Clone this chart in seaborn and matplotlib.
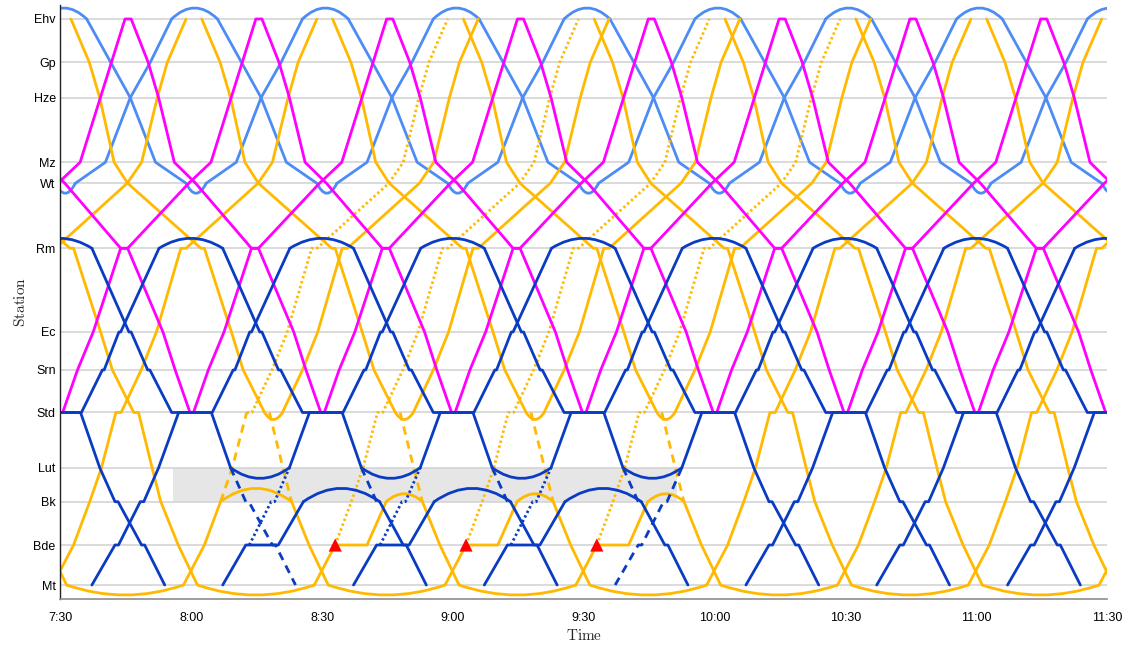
import pandas as pd
import matplotlib
matplotlib.use("Agg")
import matplotlib.pyplot as plt
from matplotlib.path import Path
from matplotlib.patches import PathPatch, Rectangle
import seaborn as sns

sns.set_style("white")
plt.rcParams["font.family"] = ["Liberation Sans", "DejaVu Sans"]
plt.rcParams["mathtext.fontset"] = "cm"

# stations from top to bottom and their place along the line
stations = ["Ehv", "Gp", "Hze", "Mz", "Wt", "Rm", "Ec", "Srn", "Std", "Lut", "Bk", "Bde", "Mt"]
station_pos = [0, 43.3, 78.7, 143.3, 164.3, 229.3, 313, 351, 393.5, 448.7, 482.7, 526, 566]
time_ticks = ["7:30", "8:00", "8:30", "9:00", "9:30", "10:00", "10:30", "11:00", "11:30"]

# light blue sprinter Ehv-Wt, minutes after leaving Ehv
lb_down_st = ["Ehv", "Gp", "Hze", "Mz", "Wt"]
lb_down_t = [0.0, 5.5, 10.0, 15.8, 22.8]
lb_up_st = ["Wt", "Mz", "Hze", "Gp", "Ehv"]
lb_up_t = [27.4, 34.3, 40.0, 44.6, 49.5]
lb_cycle = 60.0
lb_ehv_dep = ["6:36", "7:06", "7:36", "8:06", "8:36", "9:06", "9:36", "10:06", "10:36", "11:06"]

# magenta Std-Ehv-Std round trip, minutes after leaving Std
mg_st = ["Std", "Srn", "Ec", "Rm", "Rm", "Wt", "Mz", "Ehv", "Ehv", "Gp", "Hze", "Mz", "Wt",
         "Rm", "Rm", "Ec", "Srn", "Std", "Std"]
mg_t = [0.0, 3.4, 7.0, 13.3, 14.9, 28.9, 34.0, 44.3, 45.7, 49.6, 52.0, 55.6, 60.5,
        73.3, 74.9, 83.0, 85.8, 89.2, 90.0]
mg_std_dep = ["6:00.5", "6:30.5", "7:00.5", "7:30.5", "8:00.5", "8:30.5", "9:00.5",
              "9:30.5", "10:00.5", "10:30.5", "11:00.5"]

# dark blue sprinter Rm-Mt
db_down_st = ["Rm", "Ec", "Ec", "Srn", "Srn", "Std", "Std", "Lut", "Bk", "Bk", "Bde", "Bde", "Mt"]
db_down_t = [0.0, 8.5, 9.0, 12.8, 13.3, 18.3, 27.4, 31.8, 35.3, 36.0, 41.4, 42.1, 46.7]
db_up_st = ["Mt", "Bde", "Bde", "Bk", "Bk", "Lut", "Std", "Std", "Srn", "Srn", "Ec", "Ec", "Rm"]
db_up_t = [0.0, 5.3, 6.1, 11.1, 11.9, 15.3, 19.9, 27.6, 32.4, 32.8, 36.2, 36.6, 45.4]
db_rm_turn = 60.0
db_headway = 30.0
db_rm_dep = ["7:07.2", "7:37.2", "8:07.2", "8:37.2", "9:07.2", "9:37.2", "10:07.2",
             "10:37.2", "11:07.2"]
db_mt_dep = ["6:37.2", "7:07.2", "7:37.2", "8:07.2", "8:37.2", "9:07.2", "9:37.2",
             "10:07.2", "10:37.2", "11:07.2"]

# yellow intercity Ehv-Mt
ye_down_st = ["Ehv", "Gp", "Hze", "Mz", "Wt", "Rm", "Rm", "Ec", "Srn", "Std", "Std",
              "Lut", "Bk", "Bde", "Mt"]
ye_down_t = [0.0, 4.2, 6.6, 9.9, 13.0, 29.8, 30.6, 36.8, 39.5, 44.4, 45.5,
             48.6, 50.6, 54.6, 59.0]
ye_up_st = ["Mt", "Bde", "Bk", "Lut", "Std", "Std", "Srn", "Ec", "Rm", "Rm", "Wt",
            "Mz", "Hze", "Gp", "Ehv"]
ye_up_t = [0.0, 4.8, 8.5, 11.2, 14.5, 15.7, 20.3, 23.8, 29.4, 30.6, 47.1,
           50.4, 54.0, 56.3, 60.6]
ye_link = 85.8
ye_ehv_dep = ["5:32.4", "6:02.4", "6:32.4", "7:02.4", "7:32.4", "8:02.4", "8:32.4",
              "9:02.4", "9:32.4", "10:02.4", "10:32.4", "11:02.4"]

# disruption: Lut-Bk blocked
blocked = ["7:55.9", "9:51.3"]
db_cut_rm_dep = ["7:37.2", "8:07.2", "8:37.2", "9:07.2"]
db_cut_mt_dep = ["8:07.2", "8:37.2", "9:07.2", "9:37.2"]
db_hold_st = ["Mt", "Bde", "Bde", "Bk"]
db_hold_t = [0.0, 5.3, 12.75, 18.5]
ye_cut_ehv_dep = ["7:32.4", "8:02.4", "8:32.4", "9:02.4"]
ye_cut_mt_dep = ["7:58.2", "8:28.2", "8:58.2", "9:28.2"]
ye_hold_st = ["Mt", "Bde", "Bde", "Bk"]
ye_hold_t = [0.0, 4.8, 12.1, 16.5]
ye_delay = 7.0

LB, MG, YE, DB = "#4d8cf5", "#ff00ff", "#ffb900", "#0a3cc3"
STYLES = {"solid": "-", "dash": (0, (3.0, 2.2)), "dot": (0, (0.85, 1.0))}
ZORDER = {LB: 2.1, YE: 2.2, MG: 2.3, DB: 2.4}
LW = 2.0
POS = dict(zip(stations, station_pos))


def hm(s):
    h, m = s.split(":")
    return (int(h) - 7) * 60 + float(m)


def near(x, lst):
    return any(abs(x - y) < 0.05 for y in lst)


rows, arcs, marks = [], [], []


def leg(times, stops, color, style="solid"):
    n = len(rows)
    for t, s in zip(times, stops):
        rows.append((f"{color}{style}{n}", t, POS[s], color, style))


def part(st, tt, off, t0=-1e9, t1=1e9):
    idx = [i for i, t in enumerate(tt) if t0 - 1e-6 <= t <= t1 + 1e-6]
    return [tt[i] + off for i in idx], [st[i] for i in idx]


def arc(t0, t1, stop, h, color):
    arcs.append((t0, t1, POS[stop], h, color))


# light blue
for d in map(hm, lb_ehv_dep):
    leg(*part(lb_down_st, lb_down_t, d), LB)
    arc(d + lb_down_t[-1], d + lb_up_t[0], "Wt", 10, LB)
    leg(*part(lb_up_st, lb_up_t, d), LB)
    arc(d + lb_up_t[-1], d + lb_cycle, "Ehv", -11, LB)

# magenta
for s in map(hm, mg_std_dep):
    leg(*part(mg_st, mg_t, s), MG)

# dark blue
cut_R = [hm(s) for s in db_cut_rm_dep]
cut_U = [hm(s) for s in db_cut_mt_dep]
lut_d = db_down_t[db_down_st.index("Lut")]
bk_d_arr = db_down_t[db_down_st.index("Bk")]
bk_d_dep = db_down_t[db_down_st.index("Bk") + 1]
lut_u = db_up_t[db_up_st.index("Lut")]
bde_u_dep = db_up_t[db_up_st.index("Bde") + 1]

for r in map(hm, db_rm_dep):
    if near(r, cut_R):
        leg(*part(db_down_st, db_down_t, r, t1=lut_d), DB)
        arc(r + lut_d, r + db_headway + lut_u, "Lut", 10.7, DB)
        if abs(r - cut_R[0]) < 0.05:
            leg(*part(db_down_st, db_down_t, r, t0=lut_d), DB, "dash")
        else:
            leg(*part(db_down_st, db_down_t, r, lut_d, bk_d_arr), DB, "dash")
            leg(*part(db_down_st, db_down_t, r, t0=bk_d_dep), DB)
    else:
        leg(*part(db_down_st, db_down_t, r), DB)

for u in map(hm, db_mt_dep):
    if near(u, cut_U):
        if abs(u - cut_U[-1]) < 0.05:
            leg(*part(db_up_st, db_up_t, u, t1=lut_u), DB, "dash")
        else:
            leg(*part(db_hold_st, db_hold_t, u), DB)
            arc(u + db_hold_t[-1], u + bk_d_dep, "Bk", -13.4, DB)
            leg(*part(db_up_st, db_up_t, u, bde_u_dep, lut_u), DB, "dot")
        leg(*part(db_up_st, db_up_t, u, t0=lut_u), DB)
    else:
        leg(*part(db_up_st, db_up_t, u), DB)
    arc(u + db_up_t[-1], u + db_rm_turn, "Rm", -10, DB)

# yellow
cut_E = [hm(s) for s in ye_cut_ehv_dep]
cut_M = [hm(s) for s in ye_cut_mt_dep]
std_d_arr = ye_down_t[ye_down_st.index("Std")]
std_d_dep = ye_down_t[ye_down_st.index("Std") + 1]
bk_d = ye_down_t[ye_down_st.index("Bk")]
bde_u = ye_up_t[ye_up_st.index("Bde")]
bk_u = ye_up_t[ye_up_st.index("Bk")]
std_u_arr = ye_up_t[ye_up_st.index("Std")]
std_u_dep = ye_up_t[ye_up_st.index("Std") + 1]

for e in map(hm, ye_ehv_dep):
    if near(e, cut_E):
        late = e + ye_link - 60 + ye_delay
        leg(*part(ye_down_st, ye_down_t, e, t1=std_d_arr), YE)
        arc(e + std_d_arr, late + std_u_dep, "Std", 7, YE)
        leg(*part(ye_down_st, ye_down_t, e, std_d_dep, bk_d), YE, "dash")
        leg(*part(ye_down_st, ye_down_t, e, t0=bk_d), YE)
        leg(*part(ye_up_st, ye_up_t, late, t0=std_u_dep), YE)
    else:
        leg(*part(ye_down_st, ye_down_t, e), YE)
    arc(e + ye_down_t[-1], e + ye_link, "Mt", 10, YE)

    m = e + ye_link
    bk_back = m - ye_link + 60 + bk_d
    if near(m, cut_M):
        if abs(m - cut_M[0]) < 0.05:
            leg(*part(ye_up_st, ye_up_t, m, t1=bk_u), YE)
            arc(m + bk_u, bk_back, "Bk", -13.4, YE)
            leg(*part(ye_up_st, ye_up_t, m, bk_u, std_u_arr), YE, "dash")
            leg(*part(ye_up_st, ye_up_t, m, t0=std_u_arr), YE, "dot")
        else:
            leg(*part(ye_hold_st, ye_hold_t, m), YE)
            arc(m + ye_hold_t[-1], bk_back, "Bk", -8, YE)
            leg(*part(ye_up_st, ye_up_t, m, t0=bde_u), YE, "dot")
            marks.append((m + bde_u, POS["Bde"]))
    else:
        leg(*part(ye_up_st, ye_up_t, m), YE)

df = pd.DataFrame(rows, columns=["leg", "t", "pos", "color", "style"])

fig = plt.figure(figsize=(11.35, 6.45), dpi=100)
ax = fig.add_axes([0.0533, 0.0713, 0.922, 0.921])

t_lo, t_hi = hm(blocked[0]), hm(blocked[1])
ax.add_patch(Rectangle((t_lo, POS["Lut"]), t_hi - t_lo, POS["Bk"] - POS["Lut"],
                       facecolor="#e6e6e6", edgecolor="none", zorder=0.3))

for (c, st), sub in df.groupby(["color", "style"], sort=False):
    sns.lineplot(data=sub, x="t", y="pos", units="leg", estimator=None, sort=False,
                 color=c, linewidth=LW, linestyle=STYLES[st], solid_capstyle="round",
                 zorder=ZORDER[c], legend=False, ax=ax)

for t0, t1, p, h, c in arcs:
    path = Path([(t0, p), ((t0 + t1) / 2, p + 2 * h), (t1, p)],
                [Path.MOVETO, Path.CURVE3, Path.CURVE3])
    ax.add_patch(PathPatch(path, fill=False, edgecolor=c, lw=LW, capstyle="round",
                           zorder=ZORDER[c]))

mk = pd.DataFrame(marks, columns=["t", "pos"])
sns.scatterplot(data=mk, x="t", y="pos", marker="^", s=90, color="red",
                edgecolor="none", zorder=5, ax=ax, legend=False)

ax.set_xlim(hm(time_ticks[0]), hm(time_ticks[-1]))
ax.set_ylim(580, -14)
ax.set_xticks([hm(s) for s in time_ticks])
ax.set_xticklabels(time_ticks)
ax.set_yticks(station_pos)
ax.set_yticklabels(stations)
ax.yaxis.grid(True, color="#d4d4d4", lw=1.2)
ax.xaxis.grid(False)
ax.set_axisbelow(True)
ax.tick_params(axis="both", direction="in", length=7.5, width=0.9, color="#8c8c8c",
               labelsize=9, labelcolor="black")
ax.tick_params(axis="x", pad=9)
for side in ["top", "right"]:
    ax.spines[side].set_visible(False)
ax.spines["left"].set_color("#222222")
ax.spines["bottom"].set_color("#8c8c8c")
ax.spines["left"].set_linewidth(1.0)
ax.spines["bottom"].set_linewidth(1.2)
ax.set_xlabel(r"$\mathrm{Time}$", fontsize=11, labelpad=3)
ax.set_ylabel(r"$\mathrm{Station}$", fontsize=11, labelpad=4)

fig.savefig("out.png", dpi=100)
